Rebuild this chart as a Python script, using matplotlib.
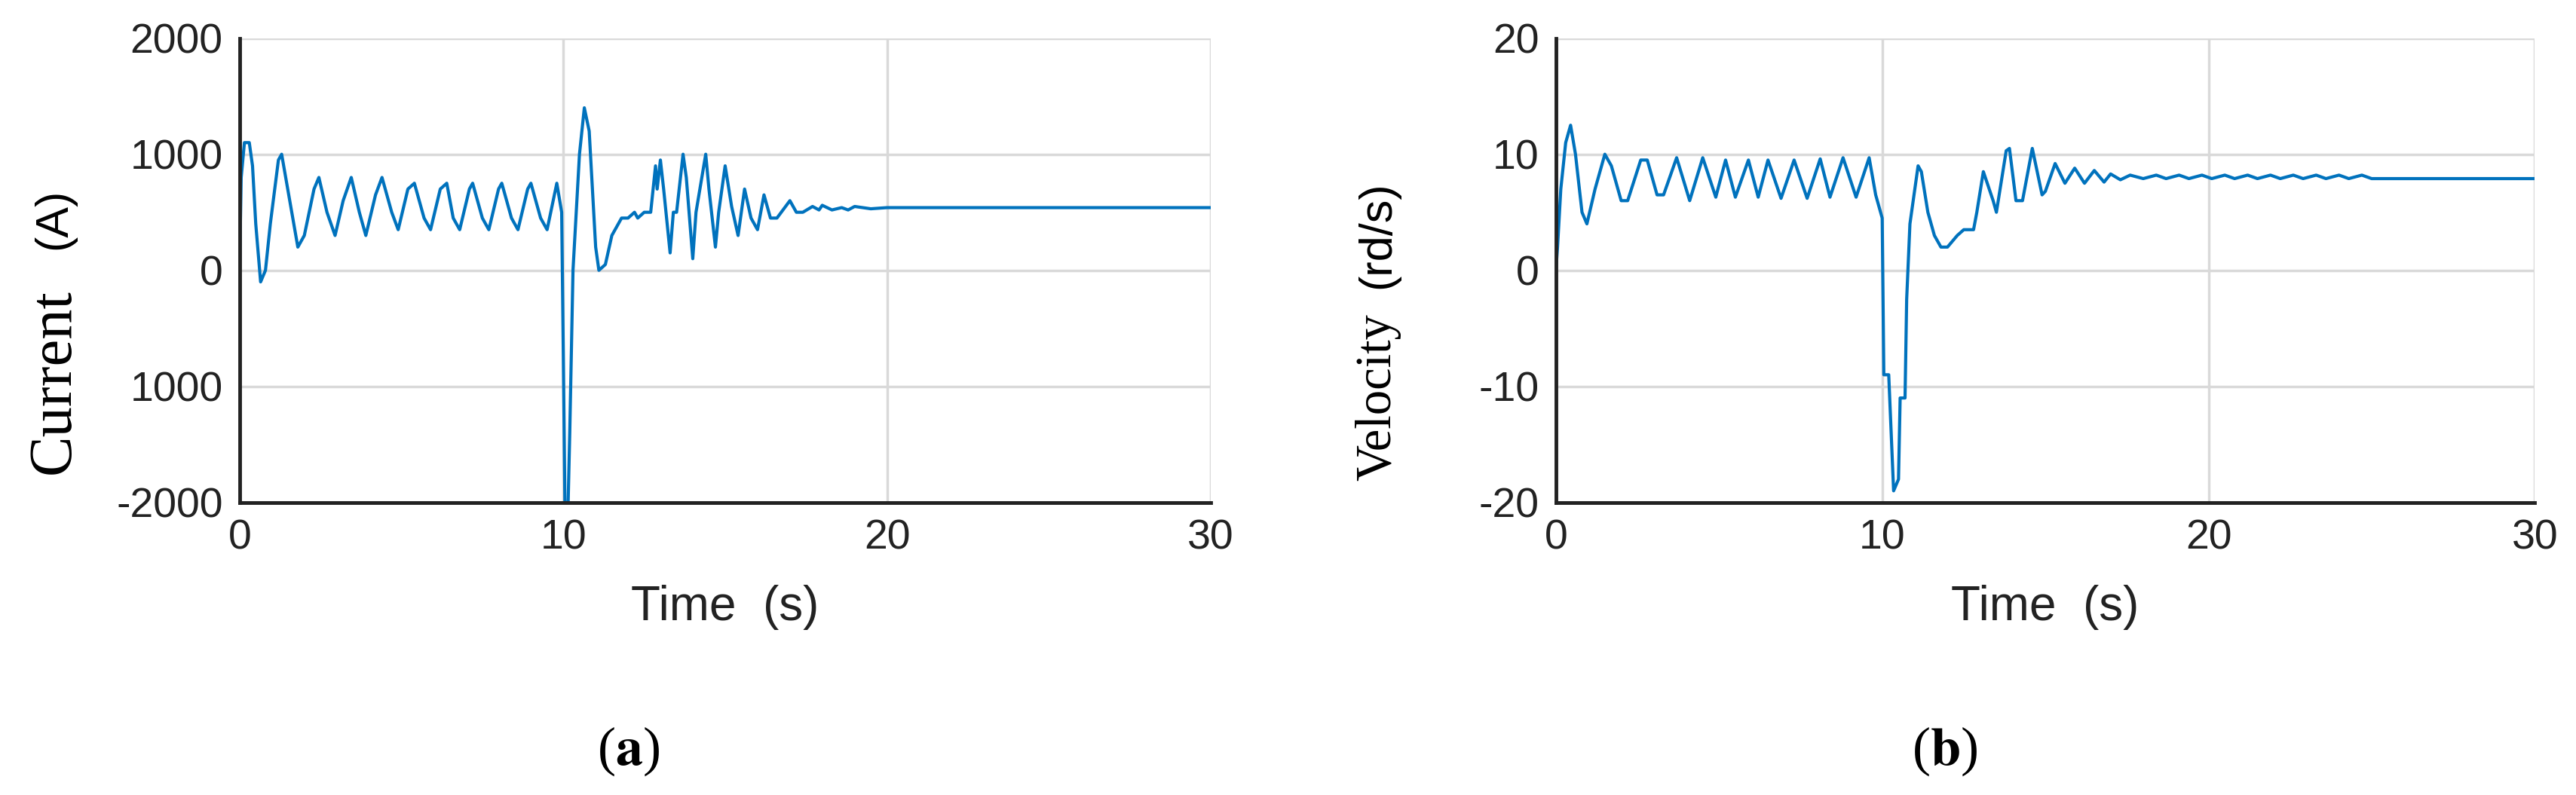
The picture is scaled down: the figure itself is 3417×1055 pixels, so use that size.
import matplotlib.pyplot as plt

# Current (A) response
t_cur = [0, 0.05, 0.15, 0.3, 0.4, 0.5, 0.65, 0.8, 0.95, 1.2, 1.3, 1.55, 1.8, 2.0, 2.3, 2.45, 2.7, 2.95,
         3.2, 3.45, 3.7, 3.9, 4.2, 4.4, 4.7, 4.9, 5.2, 5.4, 5.7, 5.9, 6.2, 6.4, 6.6, 6.8, 7.1, 7.2,
         7.5, 7.7, 8.0, 8.1, 8.4, 8.6, 8.9, 9.0, 9.3, 9.5, 9.8, 9.95, 10.0, 10.05, 10.15, 10.2, 10.3,
         10.5, 10.65, 10.8, 10.9, 11.0, 11.1, 11.3, 11.5, 11.8, 12.0, 12.2, 12.3, 12.5, 12.7, 12.85,
         12.9, 13.0, 13.1, 13.3, 13.4, 13.5, 13.7, 13.8, 14.0, 14.1, 14.4, 14.5, 14.7, 14.8, 15.0,
         15.2, 15.4, 15.6, 15.8, 16.0, 16.2, 16.4, 16.6, 17.0, 17.2, 17.4, 17.7, 17.9, 18.0, 18.3,
         18.6, 18.8, 19.0, 19.5, 20, 30]
i_cur = [0, 800, 1100, 1100, 900, 400, -100, 0, 400, 950, 1000, 600, 200, 300, 700, 800, 500, 300,
         600, 800, 500, 300, 650, 800, 500, 350, 700, 750, 450, 350, 700, 750, 450, 350, 700, 750,
         450, 350, 700, 750, 450, 350, 700, 750, 450, 350, 750, 500, -700, -2000, -2000, -1400, 0,
         1000, 1400, 1200, 700, 200, 0, 50, 300, 450, 450, 500, 450, 500, 500, 900,
         700, 950, 700, 150, 500, 500, 1000, 800, 100, 500, 1000, 700, 200, 500, 900,
         550, 300, 700, 450, 350, 650, 450, 450, 600, 500, 500, 550, 520, 560, 520,
         540, 520, 550, 530, 540, 540]

# Velocity (rd/s) response
t_vel = [0, 0.05, 0.15, 0.3, 0.45, 0.6, 0.8, 0.95, 1.2, 1.5, 1.7, 2.0, 2.2, 2.6, 2.8, 3.1, 3.3, 3.7,
         4.1, 4.5, 4.9, 5.2, 5.5, 5.9, 6.2, 6.5, 6.9, 7.3, 7.7, 8.1, 8.4, 8.8, 9.2, 9.6, 9.8, 10.0,
         10.05, 10.2, 10.35, 10.5, 10.55, 10.7, 10.75, 10.85, 11.1, 11.2, 11.4, 11.6, 11.8, 12.0,
         12.3, 12.5, 12.8, 12.9, 13.1, 13.4, 13.5, 13.8, 13.9, 14.1, 14.3, 14.6, 14.9, 15.0, 15.3,
         15.6, 15.9, 16.2, 16.5, 16.8, 17.0, 17.3, 17.6, 18.0, 18.4, 18.7, 19.1, 19.4, 19.8, 20.1,
         20.5, 20.8, 21.2, 21.5, 21.9, 22.2, 22.6, 22.9, 23.3, 23.6, 24.0, 24.3, 24.7, 25.0, 25.4, 30]
v_vel = [0, 2, 7, 11, 12.5, 10, 5, 4, 7, 10, 9, 6, 6, 9.5, 9.5, 6.5, 6.5, 9.7,
         6, 9.7, 6.3, 9.5, 6.3, 9.5, 6.3, 9.5, 6.2, 9.5, 6.2, 9.6, 6.3, 9.7, 6.3, 9.7, 6.5, 4.5,
         -9, -9, -19, -18, -11, -11, -2.5, 4, 9.0, 8.5, 5, 3, 2, 2,
         3, 3.5, 3.5, 5, 8.5, 6, 5, 10.3, 10.5, 6, 6, 10.5, 6.5, 6.8, 9.2,
         7.5, 8.8, 7.5, 8.6, 7.6, 8.3, 7.8, 8.2, 7.9, 8.2, 7.9, 8.2, 7.9, 8.2, 7.9,
         8.2, 7.9, 8.2, 7.9, 8.2, 7.9, 8.2, 7.9, 8.2, 7.9, 8.2, 7.9, 8.2, 7.9, 7.9, 7.9]

xticks = [0, 10, 20, 30]
yticks_cur = [-2000, -1000, 0, 1000, 2000]
ytick_labels_cur = ['-2000', '1000', '0', '1000', '2000']
yticks_vel = [-20, -10, 0, 10, 20]

blue = '#0072BD'
fig = plt.figure(figsize=(34.17, 10.55), dpi=100)
ax1 = fig.add_axes([0.093, 0.368, 0.377, 0.584])
ax2 = fig.add_axes([0.604, 0.368, 0.380, 0.584])


def style(ax, yticks, ylabels, ylim):
    ax.set_xlim(0, 30)
    ax.set_ylim(*ylim)
    ax.set_xticks(xticks)
    ax.set_xticklabels([str(x) for x in xticks], fontsize=40, family='Liberation Sans', color='#222222')
    ax.set_yticks(yticks)
    ax.set_yticklabels(ylabels, fontsize=40, family='Liberation Sans', color='#222222')
    ax.grid(True, color='#d9d9d9', lw=2.5)
    ax.set_axisbelow(True)
    for s in ['top', 'right']:
        ax.spines[s].set_visible(False)
    for s in ['left', 'bottom']:
        ax.spines[s].set_linewidth(3.5)
        ax.spines[s].set_color('#222222')
    ax.tick_params(length=0, pad=16)
    ax.set_xlabel('Time  (s)', fontsize=46, family='Liberation Sans', labelpad=25, color='#222222')


ax1.plot(t_cur, i_cur, color=blue, lw=3)
style(ax1, yticks_cur, ytick_labels_cur, (-2000, 2000))
ax2.plot(t_vel, v_vel, color=blue, lw=3)
style(ax2, yticks_vel, [str(v) for v in yticks_vel], (-20, 20))

# y labels: serif word + sans unit, as in the original
fig.text(0.021, 0.52, 'Current', rotation=90, fontsize=58, family='Liberation Serif', ha='center', va='center')
fig.text(0.021, 0.725, '(A)', rotation=90, fontsize=44, family='Liberation Sans', ha='center', va='center')
fig.text(0.535, 0.50, 'Velocity', rotation=90, fontsize=48, family='Liberation Serif', ha='center', va='center')
fig.text(0.535, 0.705, '(rd/s)', rotation=90, fontsize=44, family='Liberation Sans', ha='center', va='center')

plt.rcParams['mathtext.fontset'] = 'stix'
fig.text(0.244, 0.055, r'($\mathbf{a}$)', fontsize=52, family='Liberation Serif', ha='center', va='center')
fig.text(0.755, 0.055, r'($\mathbf{b}$)', fontsize=52, family='Liberation Serif', ha='center', va='center')

fig.savefig('out.png', dpi=100)
